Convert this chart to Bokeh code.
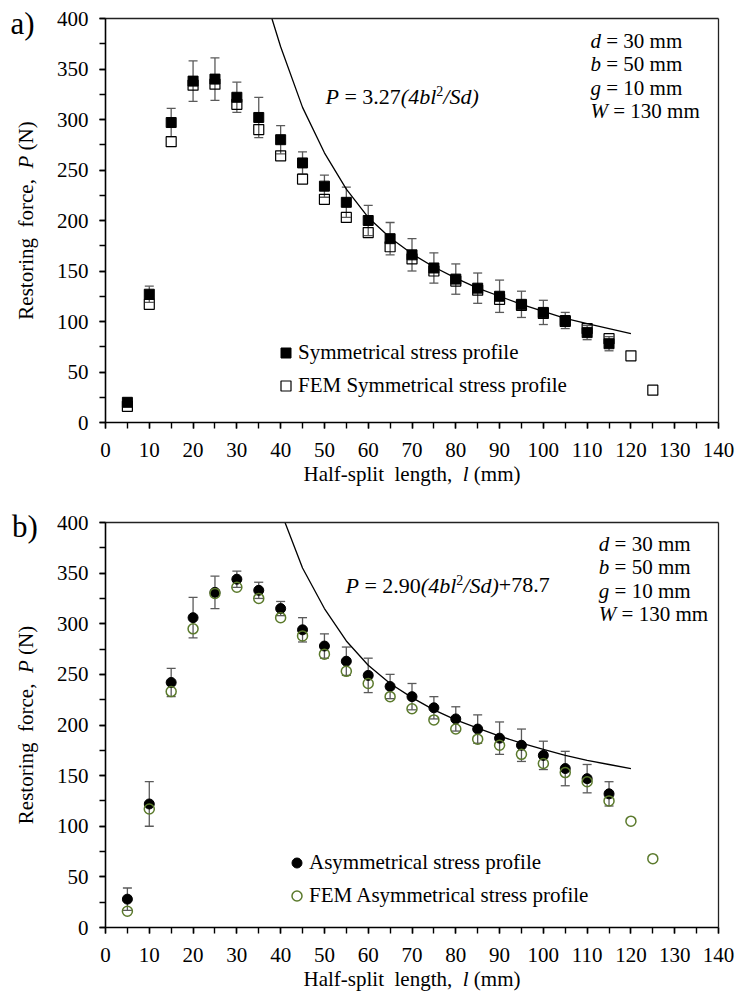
import math
from bokeh.plotting import figure
from bokeh.models import (ColumnDataSource, Whisker, TeeHead, Label, Legend, LegendItem,
                          SingleIntervalTicker, FixedTicker, Range1d, LinearAxis)
from bokeh.layouts import column
from bokeh.embed import file_html
from bokeh.resources import INLINE

# ---------------- data ----------------
X_TICK_STEP = 10
Y_TICK_STEP = 50
X_MAX = 140
Y_MAX = 400

# a) symmetrical stress profile (experiment, mean and error half-width)
L_SYM = [5, 10, 15, 20, 25, 30, 35, 40, 45, 50, 55, 60, 65, 70, 75, 80, 85, 90, 95, 100, 105, 110, 115]
P_SYM = [20, 127, 297, 338, 340, 322, 302, 280, 257, 234, 218, 200, 182, 166, 153, 142, 133, 125, 117, 109, 101, 89, 78]
E_SYM = [4, 8, 14, 20, 21, 15, 20, 14, 11, 11, 15, 15, 16, 16, 15, 15, 15, 16, 13, 12, 8, 7, 7]

# a) FEM symmetrical
L_FEM_SYM = [5, 10, 15, 20, 25, 30, 35, 40, 45, 50, 55, 60, 65, 70, 75, 80, 85, 90, 95, 100, 105, 110, 115, 120, 125]
P_FEM_SYM = [16, 117, 278, 334, 335, 315, 290, 264, 241, 221, 203, 188, 174, 162, 150, 140, 131, 122, 116, 108, 100, 93, 83, 66, 32]

# a) fitted curve P = 3.27(4bl^2/Sd)
L_FIT_SYM = [38, 40, 45, 50, 55, 60, 65, 70, 75, 80, 85, 90, 95, 100, 105, 110, 115, 120]
P_FIT_SYM = [400, 372, 312, 267, 231, 203, 183, 167, 154, 143, 133, 125, 117, 110, 103, 98, 93, 88]

# b) asymmetrical stress profile (experiment)
L_ASY = [5, 10, 15, 20, 25, 30, 35, 40, 45, 50, 55, 60, 65, 70, 75, 80, 85, 90, 95, 100, 105, 110, 115]
P_ASY = [28, 122, 242, 306, 331, 344, 333, 315, 294, 278, 263, 249, 238, 228, 217, 206, 196, 187, 180, 170, 157, 147, 132]
E_ASY = [11, 22, 14, 20, 16, 8, 8, 7, 12, 12, 14, 17, 12, 13, 11, 12, 14, 16, 16, 14, 17, 14, 12]

# b) FEM asymmetrical
L_FEM_ASY = [5, 10, 15, 20, 25, 30, 35, 40, 45, 50, 55, 60, 65, 70, 75, 80, 85, 90, 95, 100, 105, 110, 115, 120, 125]
P_FEM_ASY = [16, 117, 233, 295, 330, 336, 325, 306, 288, 270, 253, 241, 228, 216, 205, 196, 186, 180, 171, 162, 153, 144, 125, 105, 68]

# b) fitted curve P = 2.90(4bl^2/Sd)+78.7
L_FIT_ASY = [41, 45, 50, 55, 60, 65, 70, 75, 80, 85, 90, 95, 100, 105, 110, 115, 120]
P_FIT_ASY = [400, 355, 315, 283, 259, 241, 227, 215, 205, 197, 189, 182, 176, 170, 165, 161, 157]

PARAMS = [("d", "= 30 mm"), ("b", "= 50 mm"), ("g", "= 10 mm"), ("W", "= 130 mm")]

FONT = "Liberation Serif"
OLIVE = "#5b7a2c"
ERR_C = "#5a5a5a"

# Times/Liberation Serif advance widths (1/1000 em)
REG = {' ': 250, '(': 333, ')': 333, '+': 564, ',': 250, '-': 333, '.': 250, '/': 278, '=': 564,
       'A': 722, 'E': 611, 'F': 556, 'H': 722, 'M': 889, 'N': 722, 'P': 556, 'R': 667, 'S': 556, 'W': 944,
       'a': 444, 'b': 500, 'c': 444, 'd': 500, 'e': 444, 'f': 333, 'g': 500, 'h': 500, 'i': 278,
       'l': 278, 'm': 778, 'n': 500, 'o': 500, 'p': 500, 'r': 333, 's': 389, 't': 278, 'y': 500}
ITA = {' ': 250, '(': 333, ')': 333, '/': 278, 'P': 611, 'S': 500, 'W': 833, 'b': 500, 'd': 500,
       'g': 500, 'l': 278}
for c in "0123456789":
    REG[c] = 500
    ITA[c] = 500

BASELINE_FIX = 0.26  # rendered baseline sits ~descent below the anchor


def text_width(s, italic, size):
    t = ITA if italic else REG
    return sum(t.get(c, 500) for c in s) * size / 1000.0


def runs_width(runs):
    return sum(text_width(t, i, s) for t, i, s, _ in runs)


# ---------------- layout (canvas pixels, top-left origin) ----------------
CANVAS_W = 735
CANVAS_H = 497
FRAME_L = 105
FRAME_R = 718


class Panel:
    def __init__(self, top_px, bottom_px):
        self.top_px = top_px
        self.bottom_px = bottom_px
        sx = (FRAME_R - FRAME_L) / X_MAX
        sy = (bottom_px - top_px) / Y_MAX
        self.x_range = Range1d(-FRAME_L / sx, X_MAX + (CANVAS_W - FRAME_R) / sx)
        self.y_range = Range1d(-(CANVAS_H - bottom_px) / sy, Y_MAX + top_px / sy)


def draw_runs(p, cx, cy, runs, angle=0.0):
    """Runs of text (text, italic, size_px, raise_px) starting at canvas px (cx, cy) on the baseline."""
    pos = 0.0
    for text, italic, size, dy in runs:
        lead = len(text) - len(text.lstrip(' '))
        pos += text_width(' ' * lead, italic, size)
        core = text.strip(' ')
        if core:
            fix = BASELINE_FIX * size
            if angle == 0:
                lx, ly = cx + pos, cy - dy - fix
            else:
                lx, ly = cx - dy - fix, cy - pos
            p.add_layout(Label(x=lx, y=CANVAS_H - ly, x_units="screen", y_units="screen", text=core,
                               text_font=FONT, text_font_size=f"{size}px",
                               text_font_style="italic" if italic else "normal",
                               text_color="black", text_baseline="alphabetic",
                               text_align="left", angle=angle))
        pos += text_width(text[lead:], italic, size)


def make_fig(panel):
    p = figure(width=CANVAS_W, height=CANVAS_H, x_range=panel.x_range, y_range=panel.y_range,
               output_backend="svg", toolbar_location=None,
               x_axis_location=None, y_axis_location=None,
               min_border=0, min_border_left=0, min_border_right=0, min_border_top=0,
               min_border_bottom=0)
    p.xgrid.visible = False
    p.ygrid.visible = False
    p.background_fill_color = "white"
    p.border_fill_color = "white"
    p.outline_line_color = None

    def style(ax):
        ax.axis_line_color = "black"
        ax.axis_line_width = 1.6
        ax.major_tick_line_color = "black"
        ax.minor_tick_line_color = "black"
        ax.major_tick_line_width = 1.4
        ax.minor_tick_line_width = 1.4
        ax.major_tick_in = 0
        ax.major_tick_out = 6
        ax.minor_tick_in = 0
        ax.minor_tick_out = 6
        ax.major_label_text_font = FONT
        ax.major_label_text_font_size = "21px"
        ax.major_label_text_color = "black"

    xax = LinearAxis(fixed_location=0, bounds=(0, X_MAX),
                     ticker=SingleIntervalTicker(interval=X_TICK_STEP, num_minor_ticks=2))
    style(xax)
    xax.major_label_standoff = 14
    p.add_layout(xax, "below")
    yax = LinearAxis(fixed_location=0, bounds=(0, Y_MAX),
                     ticker=SingleIntervalTicker(interval=Y_TICK_STEP, num_minor_ticks=2))
    style(yax)
    yax.major_label_standoff = 11
    p.add_layout(yax, "left")
    # frame edges (top and right)
    for loc, fixed, bounds in (("above", Y_MAX, (0, X_MAX)), ("right", X_MAX, (0, Y_MAX))):
        ax = LinearAxis(fixed_location=fixed, bounds=bounds, ticker=FixedTicker(ticks=[]),
                        axis_line_color="#222222", axis_line_width=1.3,
                        major_tick_out=0, minor_tick_out=0, major_label_text_font_size="0px")
        p.add_layout(ax, loc)

    # axis titles
    cxm = (FRAME_L + FRAME_R) / 2
    cym = (panel.top_px + panel.bottom_px) / 2
    xr = [("Half-split", False, 21, 0), ("  length,", False, 21, 0), ("  l", True, 21, 0), (" (mm)", False, 21, 0)]
    draw_runs(p, cxm - runs_width(xr) / 2, panel.bottom_px + 57, xr)
    yr = [("Restoring", False, 21, 0), ("  force,", False, 21, 0), ("  P", True, 21, 0), (" (N)", False, 21, 0)]
    draw_runs(p, 31, cym + runs_width(yr) / 2, yr, angle=math.pi / 2)
    return p


def add_err(p, xs, ys, es):
    src = ColumnDataSource(dict(x=xs, lo=[y - e for y, e in zip(ys, es)], hi=[y + e for y, e in zip(ys, es)]))
    w = Whisker(source=src, base="x", upper="hi", lower="lo", dimension="height",
                line_color=ERR_C, line_width=1.3, level="underlay",
                upper_head=TeeHead(size=9, line_color=ERR_C, line_width=1.3),
                lower_head=TeeHead(size=9, line_color=ERR_C, line_width=1.3))
    p.add_layout(w)


def add_params(p, cx, cy0):
    for i, (var, rest) in enumerate(PARAMS):
        draw_runs(p, cx, cy0 + 23.4 * i, [(var, True, 21, 0), (" " + rest, False, 21, 0)])


def make_legend(items, left_px, bottom_px):
    lg = Legend(items=items, location=(left_px, CANVAS_H - bottom_px))
    lg.label_text_font = FONT
    lg.label_text_font_size = "21px"
    lg.label_text_color = "black"
    lg.glyph_width = 25
    lg.glyph_height = 25
    lg.label_height = 25
    lg.label_standoff = 0
    lg.spacing = 8
    lg.padding = 0
    lg.margin = 0
    lg.border_line_color = None
    lg.background_fill_alpha = 0
    return lg


# ---------------- a) ----------------
pan1 = Panel(18, 422)
p1 = make_fig(pan1)
add_err(p1, L_SYM, P_SYM, E_SYM)
p1.line(L_FIT_SYM, P_FIT_SYM, line_color="black", line_width=1.3)
r_fem1 = p1.scatter(L_FEM_SYM, P_FEM_SYM, marker="square", size=10, fill_color=None,
                    line_color="black", line_width=1.2)
r_sym = p1.scatter(L_SYM, P_SYM, marker="square", size=10, fill_color="black", line_color="black")
p1.add_layout(make_legend([LegendItem(label="Symmetrical stress profile", renderers=[r_sym]),
                           LegendItem(label="FEM Symmetrical stress profile", renderers=[r_fem1])],
                          273, 397.5))
draw_runs(p1, 325, 101.7, [("P", True, 22, 0), (" = 3.27", False, 22, 0), ("(4bl", True, 22, 0),
                           ("2", False, 14, 8), ("/Sd)", True, 22, 0)])
add_params(p1, 590, 46)
draw_runs(p1, 10, 31, [("a)", False, 31, 0)])

# ---------------- b) ----------------
pan2 = Panel(25, 430)
p2 = make_fig(pan2)
add_err(p2, L_ASY, P_ASY, E_ASY)
p2.line(L_FIT_ASY, P_FIT_ASY, line_color="black", line_width=1.3)
r_asy = p2.scatter(L_ASY, P_ASY, marker="circle", size=10, fill_color="black", line_color="black")
r_fem2 = p2.scatter(L_FEM_ASY, P_FEM_ASY, marker="circle", size=10, fill_color=None,
                    line_color=OLIVE, line_width=1.5)
p2.add_layout(make_legend([LegendItem(label="Asymmetrical stress profile", renderers=[r_asy]),
                           LegendItem(label="FEM Asymmetrical stress profile", renderers=[r_fem2])],
                          284, 411.2))
draw_runs(p2, 345, 93.7, [("P", True, 22, 0), (" = 2.90", False, 22, 0), ("(4bl", True, 22, 0),
                          ("2", False, 14, 8), ("/Sd)", True, 22, 0), ("+78.7", False, 22, 0)])
add_params(p2, 598.3, 52)
draw_runs(p2, 11.5, 37, [("b)", False, 31, 0)])

layout = column(p1, p2, spacing=0)
with open("out.html", "w") as f:
    f.write(file_html(layout, INLINE))
